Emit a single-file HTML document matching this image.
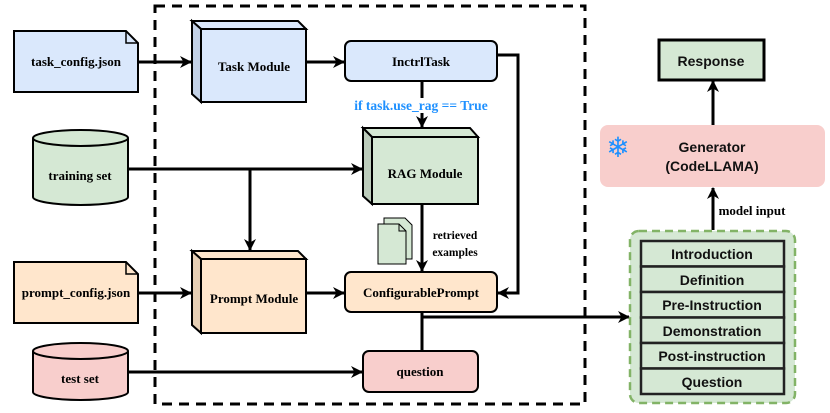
<!DOCTYPE html>
<html><head><meta charset="utf-8"><style>
html,body{margin:0;padding:0;background:#fff;width:830px;height:413px;overflow:hidden}
svg{display:block}
.s{font-family:"Liberation Serif",serif;font-weight:bold;font-size:13px;fill:#000}
.a{font-family:"Liberation Sans",sans-serif;font-weight:bold;font-size:14px;fill:#111}
</style></head><body>
<svg width="830" height="413" viewBox="0 0 830 413" xmlns="http://www.w3.org/2000/svg">
<defs>
<marker id="ar" markerWidth="12" markerHeight="12" refX="11" refY="6" orient="auto" markerUnits="userSpaceOnUse">
<path d="M0,0 L12,6 L0,12 L3.5,6 Z" fill="#000"/></marker>
</defs>
<rect x="155" y="6" width="430" height="398" fill="none" stroke="#000" stroke-width="3" stroke-dasharray="10,7"/>

<g stroke="#000" stroke-width="3" fill="none">
<line x1="138" y1="62" x2="191" y2="62" marker-end="url(#ar)"/>
<line x1="306" y1="62" x2="344" y2="62" marker-end="url(#ar)"/>
<line x1="422" y1="82" x2="422" y2="127" marker-end="url(#ar)"/>
<line x1="128" y1="169" x2="362" y2="169" marker-end="url(#ar)"/>
<line x1="250" y1="169" x2="250" y2="250" marker-end="url(#ar)"/>
<line x1="138" y1="293" x2="191" y2="293" marker-end="url(#ar)"/>
<line x1="306" y1="293" x2="344" y2="293" marker-end="url(#ar)"/>
<line x1="422" y1="204" x2="422" y2="271" marker-end="url(#ar)"/>
<polyline points="497,55 518,55 518,293 498,293" marker-end="url(#ar)"/>
<line x1="422" y1="312" x2="422" y2="351"/>
<line x1="422" y1="317" x2="629" y2="317" marker-end="url(#ar)"/>
<line x1="128" y1="372" x2="362" y2="372" marker-end="url(#ar)"/>
<line x1="713" y1="125" x2="713" y2="81" marker-end="url(#ar)"/>
<line x1="713" y1="230" x2="713" y2="188" marker-end="url(#ar)"/>
</g>

<path d="M14,31 H126 L138,43 V92 H14 Z" fill="#DAE8FC" stroke="#000" stroke-width="2"/>
<path d="M126,31 V43 H138" fill="none" stroke="#000" stroke-width="1.5"/>
<text class="s" x="76" y="66" text-anchor="middle">task_config.json</text>
<path d="M14,262 H126 L138,274 V323 H14 Z" fill="#FFE6CC" stroke="#000" stroke-width="2"/>
<path d="M126,262 V274 H138" fill="none" stroke="#000" stroke-width="1.5"/>
<text class="s" x="76" y="297" text-anchor="middle">prompt_config.json</text>

<g stroke="#000" stroke-width="2">
<path d="M33,138 V197 A47.5,8 0 0 0 128,197 V138" fill="#D5E8D4"/>
<ellipse cx="80.5" cy="138" rx="47.5" ry="8" fill="#D5E8D4"/>
<path d="M33,351 V392 A47.5,8 0 0 0 128,392 V351" fill="#F8CECC"/>
<ellipse cx="80.5" cy="351" rx="47.5" ry="8" fill="#F8CECC"/>
</g>
<text class="s" x="80" y="180" text-anchor="middle">training set</text>
<text class="s" x="80" y="383" text-anchor="middle">test set</text>

<g stroke="#000" stroke-width="2">
<path d="M192,21 H298 L306,29 H201 Z" fill="#DAE8FC"/>
<path d="M192,21 L201,29 V102 L192,94 Z" fill="#C3D1E6"/>
<rect x="201" y="29" width="105" height="73" fill="#DAE8FC"/>
<path d="M363,128 H470 L478,137 H372 Z" fill="#D5E8D4"/>
<path d="M363,128 L372,137 V204 L363,196 Z" fill="#BCCCBB"/>
<rect x="372" y="137" width="106" height="67" fill="#D5E8D4"/>
<path d="M192,251 H298 L306,259 H201 Z" fill="#FFE6CC"/>
<path d="M192,251 L201,259 V333 L192,325 Z" fill="#E6CFB5"/>
<rect x="201" y="259" width="105" height="74" fill="#FFE6CC"/>
</g>
<text class="s" x="254" y="71" text-anchor="middle">Task Module</text>
<text class="s" x="425" y="178" text-anchor="middle">RAG Module</text>
<text class="s" x="254" y="303" text-anchor="middle">Prompt Module</text>

<rect x="345" y="41" width="152" height="40" rx="6" fill="#DAE8FC" stroke="#000" stroke-width="2"/>
<text class="s" x="421" y="66" text-anchor="middle">InctrlTask</text>
<rect x="356" y="98" width="132" height="15" fill="#fff"/>
<text class="s" x="421" y="110" text-anchor="middle" style="fill:#1E90FF;font-size:13.5px">if task.use_rag == True</text>
<rect x="345" y="272" width="152" height="40" rx="6" fill="#FFE6CC" stroke="#000" stroke-width="2"/>
<text class="s" x="421" y="297" text-anchor="middle">ConfigurablePrompt</text>
<rect x="363" y="351" width="115" height="41" rx="6" fill="#F8CECC" stroke="#000" stroke-width="2"/>
<text class="s" x="420" y="376" text-anchor="middle">question</text>

<g stroke="#000" stroke-width="1">
<path d="M384,218 H405 L412,225 V259 H384 Z" fill="#D5E8D4"/>
<path d="M378,224 H399 L406,231 V264 H378 Z" fill="#D5E8D4"/>
<path d="M399,224 V231 H406" fill="none"/>
</g>
<text class="s" x="455" y="239" text-anchor="middle" style="font-size:11.5px">retrieved</text>
<text class="s" x="455" y="256" text-anchor="middle" style="font-size:11.5px">examples</text>

<rect x="659" y="40" width="105" height="40" fill="#D5E8D4" stroke="#000" stroke-width="3"/>
<text class="a" x="711" y="66" text-anchor="middle">Response</text>
<rect x="600" y="125" width="225" height="62" rx="8" fill="#F8CECC"/>
<text class="a" x="712" y="152" text-anchor="middle">Generator</text>
<text class="a" x="712" y="171" text-anchor="middle">(CodeLLAMA)</text>
<text x="618" y="157" text-anchor="middle" style="font-family:'DejaVu Sans',sans-serif;font-size:28px;fill:#1E90FF">❄</text>
<text class="s" x="752" y="215" text-anchor="middle" style="font-size:13px">model input</text>

<rect x="630" y="231" width="165" height="172" rx="9" fill="#D5E8D4" stroke="#82B366" stroke-width="2.5" stroke-dasharray="8,5"/>
<g stroke="#222" stroke-width="2.5" fill="#D5E8D4">
<rect x="641" y="241" width="143" height="25.5"/>
<rect x="641" y="266.5" width="143" height="25.5"/>
<rect x="641" y="292" width="143" height="25.5"/>
<rect x="641" y="317.5" width="143" height="25.5"/>
<rect x="641" y="343" width="143" height="25.5"/>
<rect x="641" y="368.5" width="143" height="25.5"/>
</g>
<text class="a" x="712" y="259" text-anchor="middle">Introduction</text>
<text class="a" x="712" y="285" text-anchor="middle">Definition</text>
<text class="a" x="712" y="310" text-anchor="middle">Pre-Instruction</text>
<text class="a" x="712" y="336" text-anchor="middle">Demonstration</text>
<text class="a" x="712" y="361" text-anchor="middle">Post-instruction</text>
<text class="a" x="712" y="387" text-anchor="middle">Question</text>
</svg>
</body></html>
